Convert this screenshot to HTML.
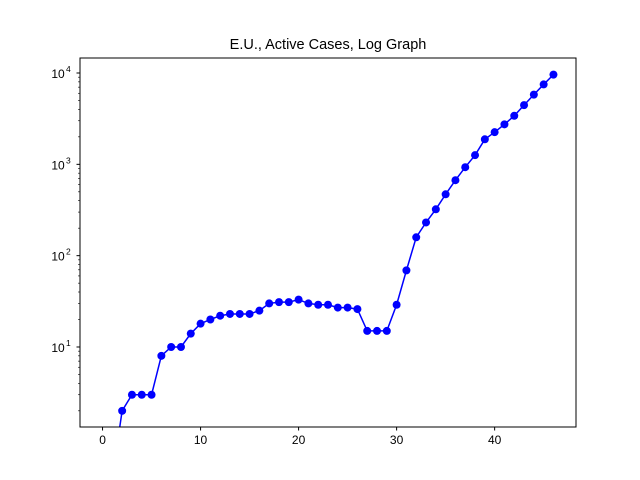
<!DOCTYPE html>
<html><head><meta charset="utf-8"><style>
body{margin:0;background:#fff}
svg{display:block;font-family:"Liberation Sans","DejaVu Sans",sans-serif}
</style></head><body>
<svg id="c" width="640" height="480">
<rect x="0" y="0" width="640" height="480" fill="#fff"/>
<text x="328" y="49" text-anchor="middle" font-size="14.5">E.U., Active Cases, Log Graph</text>
<g id="plot"></g>
<rect x="80" y="58" width="496" height="369" fill="none" stroke="#000" stroke-width="1"/>
</svg>
<script>
const xs=[0,1,2,3,4,5,6,7,8,9,10,11,12,13,14,15,16,17,18,19,20,21,22,23,24,25,26,27,28,29,30,31,32,33,34,35,36,37,38,39,40,41,42,43,44,45,46];
const vals=[0,0,2,3,3,3,8,10,10,14,18,20,22,23,23,23,25,30,31,31,33,30,29,29,27,27,26,15,15,15,29,69,159,231,322,470,670,930,1260,1880,2250,2740,3400,4450,5800,7500,9600];
const xTicks=[0,10,20,30,40];
const yTicks=[1,2,3,4];
const NS="http://www.w3.org/2000/svg";
const L=80,R=576,T=58,B=427;
const xmin=-2.3,xmax=48.3,ymin=Math.log10(1.33),ymax=Math.log10(14600);
const X=v=>L+(v-xmin)/(xmax-xmin)*(R-L);
const Y=v=>v<=0?B+50:B-(Math.log10(v)-ymin)/(ymax-ymin)*(B-T);
const svg=document.getElementById('c'),g=document.getElementById('plot');
function mk(t,a,p){const e=document.createElementNS(NS,t);for(const k in a)e.setAttribute(k,a[k]);(p||svg).appendChild(e);return e;}
const cp=mk('clipPath',{id:'cp'});mk('rect',{x:L,y:T,width:R-L,height:B-T},cp);
g.setAttribute('clip-path','url(#cp)');
const line=mk('polyline',{points:xs.map((x,i)=>X(x)+','+Y(vals[i])).join(' '),fill:'none',stroke:'#0000ff','stroke-width':1.5},g);


xs.forEach((x,i)=>{if(vals[i]<=0)return;
const c=mk('circle',{cx:X(x),cy:Y(vals[i]),r:4,fill:'#0000ff'},g);

});
xTicks.forEach(t=>{const x=X(t);
const l=mk('line',{x1:x,x2:x,y1:B,y2:B+3.5,stroke:'#000'});


const tx=mk('text',{x:x,y:B+17,'text-anchor':'middle','font-size':'12'});tx.textContent=t;

});
for(let d=0;d<=4;d++)for(let m=2;m<=9;m++){const v=m*Math.pow(10,d),y=Y(v);if(y<T||y>B)continue;
const l=mk('line',{x1:L-2,x2:L,y1:y,y2:y,stroke:'#000','stroke-width':0.6});

}
yTicks.forEach(p=>{const y=Y(Math.pow(10,p));
const l=mk('line',{x1:L-3.5,x2:L,y1:y,y2:y,stroke:'#000'});


const tx=mk('text',{x:L-22,y:y+5,'text-anchor':'middle','font-size':'12'});tx.textContent='10';


const sp=mk('text',{x:L-14,y:y-1,'text-anchor':'start','font-size':'8.5'});sp.textContent=p;

});
</script>
</body></html>
